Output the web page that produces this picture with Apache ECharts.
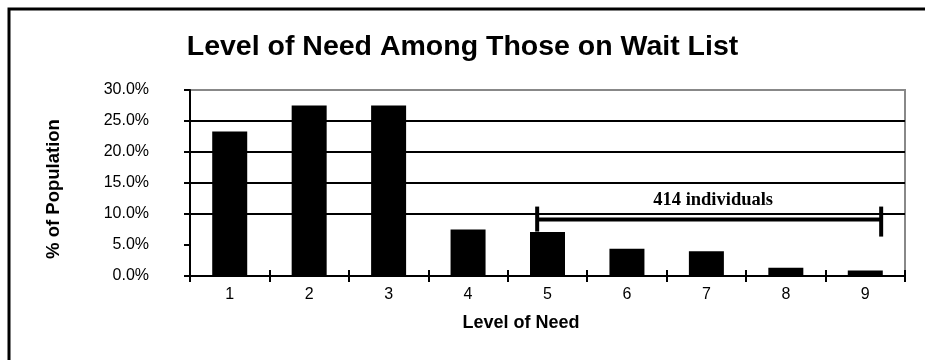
<!DOCTYPE html>
<html>
<head>
<meta charset="utf-8">
<script src="https://cdn.jsdelivr.net/npm/echarts@6/dist/echarts.min.js"></script>
<style>
  html, body { margin: 0; padding: 0; background: #fff; }
  #chart { width: 925px; height: 360px; }
</style>
</head>
<body>
<div id="chart"></div>
<script>
// level of need categories and share of population (%)
const levels = ['1', '2', '3', '4', '5', '6', '7', '8', '9']
const shares = [23.3, 27.5, 27.5, 7.5, 7.1, 4.4, 4.0, 1.35, 0.9]
const yTicks = [0, 5, 10, 15, 20, 25, 30]

// bracket note over levels 5 - 9 (x in band units, y in %)
const noteText = '414 individuals'
const noteFrom = [4.37]
const noteTo = [8.7]
const noteLevel = [9.1]

const font = 'Liberation Sans, Arial, sans-serif'

var chart = echarts.init(document.getElementById('chart'))

chart.setOption({
  backgroundColor: '#fff',
  animation: false,
  title: {
    text: 'Level of Need Among Those on Wait List',
    left: 'center',
    top: 28,
    textStyle: { fontFamily: font, fontSize: 28.5, fontWeight: 'bold', color: '#000' }
  },
  graphic: [{
    type: 'rect',
    shape: { x: 9, y: 9, width: 1000, height: 1000 },
    style: { fill: 'none', stroke: '#000', lineWidth: 3 },
    silent: true
  }],
  grid: {
    left: 190,
    right: 20,
    top: 90,
    bottom: 84,
    show: true,
    borderColor: '#888',
    borderWidth: 2,
    backgroundColor: 'transparent'
  },
  xAxis: [{
    type: 'category',
    data: levels,
    name: 'Level of Need',
    nameLocation: 'middle',
    nameGap: 38,
    nameTextStyle: { fontFamily: font, fontSize: 18, fontWeight: 'bold', color: '#000', padding: [0, 53, 0, 0] },
    axisLine: { lineStyle: { color: '#000', width: 2 } },
    axisTick: { show: true, length: 6, lineStyle: { color: '#000', width: 2 } },
    axisLabel: { fontFamily: font, fontSize: 16, color: '#000', margin: 11 },
    splitLine: { show: false }
  }, {
    // second copy only to draw the upper half of the ticks
    type: 'category',
    data: levels,
    position: 'bottom',
    axisLine: { show: false },
    axisTick: { show: true, inside: true, length: 6, lineStyle: { color: '#000', width: 2 } },
    axisLabel: { show: false },
    splitLine: { show: false }
  }, {
    type: 'value',
    min: 0,
    max: 9,
    show: false
  }],
  yAxis: {
    type: 'value',
    min: yTicks[0],
    max: yTicks[yTicks.length - 1],
    interval: 5,
    name: '% of Population',
    nameLocation: 'middle',
    nameGap: 127,
    nameTextStyle: { fontFamily: font, fontSize: 18.5, fontWeight: 'bold', color: '#000', padding: [0, 12, 0, 0] },
    axisLine: { show: true, lineStyle: { color: '#000', width: 2 } },
    axisTick: { show: true, length: 6, lineStyle: { color: '#000', width: 2 } },
    axisLabel: {
      fontFamily: font,
      fontSize: 16,
      color: '#000',
      margin: 41,
      formatter: function (v) { return v.toFixed(1) + '%' }
    },
    splitLine: {
      show: true,
      lineStyle: {
        color: ['#000', 'rgba(0,0,0,0)', '#000', '#000', '#000', '#000', '#888'],
        width: 2
      }
    }
  },
  series: [{
    name: 'share',
    type: 'bar',
    xAxisIndex: 0,
    data: shares,
    barWidth: 35,
    itemStyle: { color: '#000' },
    z: 3
  }, {
    name: 'note',
    type: 'custom',
    xAxisIndex: 2,
    data: [[noteFrom[0], noteTo[0], noteLevel[0]]],
    z: 5,
    renderItem: function (params, api) {
      var a = api.coord([api.value(0), api.value(2)])
      var b = api.coord([api.value(1), api.value(2)])
      var mid = (a[0] + b[0]) / 2
      var line = { stroke: '#000', lineWidth: 4 }
      return {
        type: 'group',
        children: [
          { type: 'line', shape: { x1: a[0], y1: a[1], x2: b[0], y2: b[1] }, style: line },
          { type: 'line', shape: { x1: a[0], y1: a[1] - 13, x2: a[0], y2: a[1] + 12 }, style: line },
          { type: 'line', shape: { x1: b[0], y1: b[1] - 13, x2: b[0], y2: b[1] + 17 }, style: line },
          {
            type: 'text',
            x: mid + 4,
            y: a[1] - 19,
            style: {
              text: noteText,
              fontFamily: 'Liberation Serif, Times New Roman, serif',
              fontSize: 18.5,
              fontWeight: 'bold',
              fill: '#000',
              align: 'center',
              verticalAlign: 'middle'
            }
          }
        ]
      }
    }
  }]
})
</script>
</body>
</html>
